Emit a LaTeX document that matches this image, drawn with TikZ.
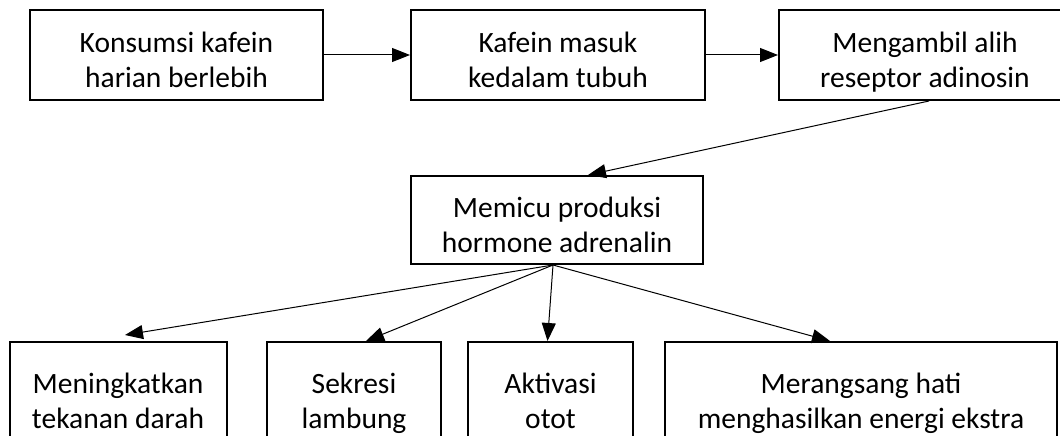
\documentclass[tikz,border=0pt]{standalone}
\usepackage{fontspec}
\setmainfont{Carlito}
\usetikzlibrary{arrows.meta}
\newcommand\twolines[2]{\rule{0pt}{36pt}#1\\#2\rule[-7pt]{0pt}{7pt}}
\begin{document}
\begin{tikzpicture}[x=1pt,y=-1pt,
  flowbox/.style={draw=black, line width=2pt, rectangle, inner sep=0pt, align=center,
    font=\fontsize{29.5}{35}\selectfont},
  flowarrow/.style={draw=black, line width=1pt, -{Triangle[length=18pt,width=14pt]}}]
\clip (0,0) rectangle (1060,436);
\fill[white] (0,0) rectangle (1060,436);
% top row
\node[flowbox, minimum width=293pt, minimum height=90pt] (b1) at (176.5,55) {\twolines{Konsumsi kafein}{harian berlebih}};
\node[flowbox, minimum width=294pt, minimum height=90pt] (b2) at (558,55) {\twolines{Kafein masuk}{kedalam tubuh}};
\node[flowbox, minimum width=292pt, minimum height=90pt] (b3) at (925,55) {\twolines{Mengambil alih}{reseptor adinosin}};
% middle
\node[flowbox, minimum width=292pt, minimum height=88pt] (b4) at (557,220) {\twolines{Memicu produksi}{hormone adrenalin}};
% bottom row
\node[flowbox, minimum width=217pt, minimum height=108pt] (b5) at (118,396) {\twolines{Meningkatkan}{tekanan darah}};
\node[flowbox, minimum width=174pt, minimum height=108pt] (b6) at (354,396) {\twolines{Sekresi}{lambung}};
\node[flowbox, minimum width=165pt, minimum height=108pt] (b7) at (550.5,396) {\twolines{Aktivasi}{otot}};
\node[flowbox, minimum width=392pt, minimum height=108pt] (b8) at (861,396) {\twolines{Merangsang hati}{menghasilkan energi ekstra}};
% connectors
\draw[flowarrow] (b1.east) -- (b2.west);
\draw[flowarrow] (b2.east) -- (b3.west);
\draw[flowarrow] ([xshift=4pt]b3.south) -- ([xshift=31pt]b4.north);
\coordinate (hub) at ([xshift=-4pt]b4.south);
\draw[flowarrow] (hub) -- ([xshift=7pt,yshift=6pt]b5.north);
\draw[flowarrow] (hub) -- ([xshift=12pt]b6.north);
\draw[flowarrow] (hub) -- ([xshift=-3pt]b7.north);
\draw[flowarrow] (hub) -- ([xshift=-31pt]b8.north);
\end{tikzpicture}
\end{document}
